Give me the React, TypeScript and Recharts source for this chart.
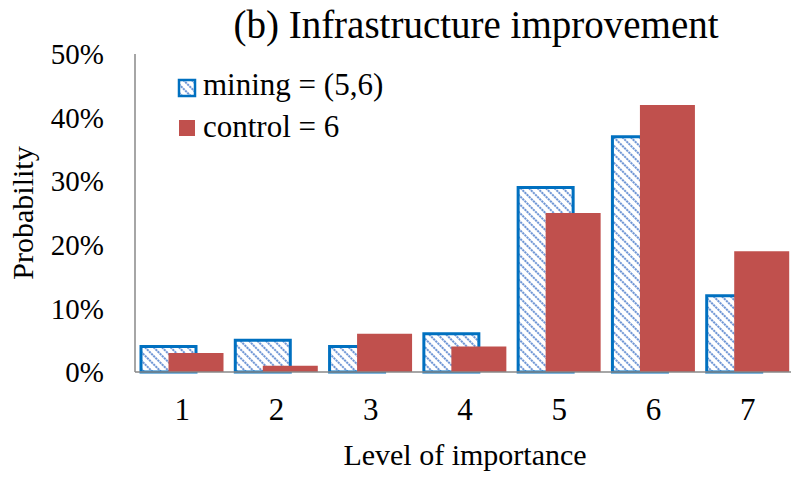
import React from 'react';
import { BarChart, Bar, XAxis, YAxis } from 'recharts';

const categories = ['1', '2', '3', '4', '5', '6', '7'];
const miningValues = [4, 5, 4, 6, 29, 37, 12];
const controlValues = [3, 1, 6, 4, 25, 42, 19];
const yTicks = [0, 10, 20, 30, 40, 50];

const seriesNames = { mining: 'mining = (5,6)', control: 'control = 6' };
const titleText = '(b) Infrastructure improvement';
const xLabel = 'Level of importance';
const yLabel = 'Probability';

const data = categories.map((c, i) => ({
  cat: c,
  mining: miningValues[i],
  control: controlValues[i],
}));

const FONT = 'Liberation Serif';
const RED = '#C0504D';
const BLUE = '#0070C0';
const HATCH = '#3F74C8';

const txt = { fontFamily: FONT };

export default function App() {
  return (
    <div style={{ position: 'fixed', left: 0, top: 0, width: 791, height: 477, overflow: 'hidden', background: '#fff', fontFamily: FONT }}>
      <svg width={0} height={0} style={{ position: 'absolute' }}>
        <defs>
          <pattern id="hatch" patternUnits="userSpaceOnUse" width={6} height={6} patternTransform="rotate(-45)">
            <rect x={0} y={0} width={6} height={6} fill="#ffffff" />
            <line x1={1} y1={0} x2={1} y2={6} stroke={HATCH} strokeWidth={1.5} strokeDasharray="2.2 0.8" />
          </pattern>
        </defs>
      </svg>
      <BarChart
        width={800}
        height={477}
        data={data}
        margin={{ top: 54, right: 5, bottom: 45, left: 0 }}
        barSize={55}
        barGap={-27.5}
      >
        <XAxis
          dataKey="cat"
          height={60}
          axisLine={{ stroke: '#898989', strokeWidth: 1.5 }}
          tickLine={false}
          tickSize={0}
          tickMargin={26}
          tick={{ fill: '#000', fontSize: 31, fontFamily: FONT }}
        />
        <XAxis
          xAxisId="top"
          dataKey="cat"
          orientation="top"
          height={0}
          tick={false}
          tickLine={false}
          axisLine={{ stroke: '#555', strokeWidth: 2 }}
        />
        <YAxis
          width={135}
          domain={[0, 50]}
          ticks={yTicks}
          interval={0}
          tickFormatter={(v: number) => `${v}%`}
          axisLine={{ stroke: '#898989', strokeWidth: 1.5 }}
          tickLine={false}
          tickSize={0}
          tickMargin={31}
          tick={{ fill: '#000', fontSize: 29, fontFamily: FONT }}
        />
        <Bar dataKey="mining" name={seriesNames.mining} fill="url(#hatch)" stroke={BLUE} strokeWidth={3} isAnimationActive={false} />
        <Bar dataKey="control" name={seriesNames.control} fill={RED} isAnimationActive={false} />
      </BarChart>
      <svg width={791} height={477} style={{ position: 'absolute', left: 0, top: 0, pointerEvents: 'none' }}>
        <text x={476} y={38} textAnchor="middle" style={txt} fontSize={39} fill="#000">{titleText}</text>
        <text x={465} y={465} textAnchor="middle" style={txt} fontSize={30} fill="#000">{xLabel}</text>
        <text x={33} y={213} textAnchor="middle" style={txt} fontSize={30} fill="#000" transform="rotate(-90, 33, 213)">{yLabel}</text>
        <rect x={179} y={80} width={16} height={16} fill="url(#hatch)" stroke={BLUE} strokeWidth={2.5} />
        <text x={203} y={95} style={txt} fontSize={31} fill="#000">{seriesNames.mining}</text>
        <rect x={179} y={120} width={16} height={16} fill={RED} />
        <text x={203} y={136.5} style={txt} fontSize={31} fill="#000">{seriesNames.control}</text>
      </svg>
    </div>
  );
}
